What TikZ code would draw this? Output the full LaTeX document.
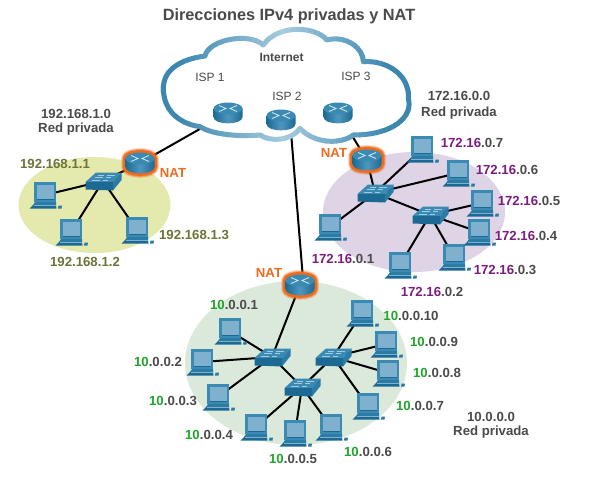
\documentclass[tikz,border=0pt]{standalone}
\usepackage{fontspec}
\setmainfont{Liberation Sans}
\definecolor{txt}{HTML}{4A4A4A}
\definecolor{oli}{HTML}{6E7338}
\definecolor{pur}{HTML}{7B1E7E}
\definecolor{grn}{HTML}{1FA52A}
\definecolor{ora}{HTML}{EF6C1E}
\definecolor{cdark}{HTML}{3C87B0}
\definecolor{clight}{HTML}{B9D8E7}
\definecolor{bluetop}{HTML}{3A8AB4}
\definecolor{bluedk}{HTML}{1C6A94}
\definecolor{bluemd}{HTML}{2A7CA6}
\definecolor{scr}{HTML}{7FB1CF}
\definecolor{elly}{HTML}{E4E9AE}
\definecolor{ellp}{HTML}{DFD4E6}
\definecolor{ellg}{HTML}{DBE9DB}
\tikzset{
  dev/.style={inner sep=0pt,minimum size=0pt,outer sep=0pt},
  lab/.style={font=\bfseries\fontsize{13.2}{15}\selectfont,text=txt,inner sep=0pt},
  isp/.style={font=\fontsize{12}{14}\selectfont,text=txt,inner sep=0pt},
  natlab/.style={font=\bfseries\fontsize{13.2}{15}\selectfont,text=ora,inner sep=0pt},
  wire/.style={line width=2pt,black},
  pcicon/.pic={
    \fill[bluetop] (-11,-13) -- (11,-13) -- (11,7) -- (-11,7) -- cycle;
    \fill[scr] (-8.5,-10.5) -- (8.5,-10.5) -- (8.5,3.5) -- (-8.5,3.5) -- cycle;
    \fill[bluedk] (-8.5,3.5) -- (8.5,3.5) -- (8.5,4.5) -- (-8.5,4.5) -- cycle;
    \fill[bluemd] (-10,7) -- (11,7) -- (11,10) -- (-12,10) -- cycle;
    \fill[bluedk] (-12,10) -- (11,10) -- (11.5,13.5) -- (-15.5,13.5) -- cycle;
    \draw[scr,line width=.5pt] (-11,10) -- (10.5,10);
    \fill[bluemd] (13.5,10.5) -- (17,10.5) -- (16.5,13.5) -- (13,13.5) -- cycle;
  },
  switchicon/.pic={
    \fill[bluetop] (-7,-8.5) -- (18.5,-8.5) -- (10,1) -- (-17.5,1) -- cycle;
    \fill[bluedk] (-17.5,1) -- (10,1) -- (10,9.5) -- (-17.5,8.5) -- cycle;
    \fill[bluemd] (18.5,-8.5) -- (18.5,-1) -- (10,9.5) -- (10,1) -- cycle;
    \draw[white!55!bluetop,line width=.6pt]
      (-5,-6) -- (1,-6) (4,-6) -- (12,-6) (-8,-3.5) -- (0,-3.5) (3,-3.5) -- (8,-3.5) (-11,-1) -- (-3,-1) (0,-1) -- (5,-1);
  },
  routericon/.pic={
    \shade[left color=bluedk,right color=bluedk,middle color=bluetop!70!scr]
      (-14.5,-4.5) -- (-14.5,4) .. controls (-14.5,12.5) and (14.5,12.5) .. (14.5,4) -- (14.5,-4.5) -- cycle;
    \fill[bluetop] (0,-4.5) ellipse [x radius=14.5,y radius=6];
    \draw[white!80!bluetop,line width=.8pt]
      (-9,-7.5) -- (-2,-4.5) -- (-9,-1.5) (9,-7.5) -- (2,-4.5) -- (9,-1.5);
  },
  natglow/.pic={
    \foreach \w/\o in {9/.25,7/.5,5/1}{
      \draw[ora,line width=\w pt,opacity=\o,line join=round]
        (-14.5,-4.5) .. controls (-14.5,-12.5) and (14.5,-12.5) .. (14.5,-4.5) -- (14.5,4) .. controls (14.5,12.5) and (-14.5,12.5) .. (-14.5,4) -- cycle;
    }
  },
}
\newcommand{\cloudpath}{
  (40,205) .. controls (40,150) and (90,118) .. (165,108)
  .. controls (175,60) and (295,35) .. (340,75)
  .. controls (385,10) and (500,20) .. (530,60)
  .. controls (590,45) and (640,85) .. (640,125)
  .. controls (710,120) and (780,165) .. (775,235)
  .. controls (790,290) and (730,345) .. (610,345)
  .. controls (570,375) and (490,370) .. (450,325)
  .. controls (420,365) and (360,365) .. (330,345)
  .. controls (270,350) and (190,345) .. (150,320)
  .. controls (80,310) and (40,265) .. (40,205) -- cycle
}
\newcommand{\purnet}{\textcolor{pur}{172.16}}
\newcommand{\grnnet}{\textcolor{grn}{10}}
\begin{document}
\begin{tikzpicture}[x=1pt,y=-1pt]
\useasboundingbox (0,0) rectangle (600,477);
\fill[white] (0,0) rectangle (600,477);
% ellipses
\fill[elly] (94.5,205) ellipse [x radius=76,y radius=48];
\fill[ellp] (414,212) ellipse [x radius=91,y radius=60];
\fill[ellg] (296,363) ellipse [x radius=111,y radius=82];
% device anchors
\node[dev] (rA) at (228,113) {};
\node[dev] (rB) at (281,120) {};
\node[dev] (rC) at (338,113) {};
\coordinate (rBend) at (290,120);
\node[dev] (natL) at (140,163) {};
\node[dev] (swL) at (103,181) {};
\node[dev] (pL1) at (45,195) {};
\node[dev] (pL2) at (71,232) {};
\node[dev] (pL3) at (137,230) {};
\node[dev] (natR) at (367,160) {};
\node[dev] (swR1) at (375,193) {};
\node[dev] (swR2) at (430,215) {};
\node[dev] (pR1) at (330,227) {};
\node[dev] (pR2) at (400,265) {};
\node[dev] (pR3) at (454,257) {};
\node[dev] (pR4) at (479,232) {};
\node[dev] (pR5) at (482,203) {};
\node[dev] (pR6) at (458,173) {};
\node[dev] (pR7) at (422,149) {};
\node[dev] (natB) at (300,285) {};
\coordinate (natBend) at (303.5,285);
\node[dev] (swA) at (272,357) {};
\node[dev] (swB) at (333,357) {};
\node[dev] (swC) at (302,387) {};
\node[dev] (pB1) at (230,331) {};
\node[dev] (pB2) at (202,362) {};
\node[dev] (pB3) at (218,397) {};
\node[dev] (pB4) at (256,427) {};
\node[dev] (pB5) at (295,433) {};
\node[dev] (pB6) at (331,427) {};
\node[dev] (pB7) at (368,406) {};
\node[dev] (pB8) at (388,373) {};
\node[dev] (pB9) at (386,344) {};
\node[dev] (pB10) at (362,313) {};
% connectors
\foreach \a/\b in {rA/natL,rC/natR,natL/swL,swL/pL1,swL/pL2,swL/pL3,
  natR/swR1,swR1/pR1,swR1/pR6,swR1/pR7,swR1/swR2,swR2/pR2,swR2/pR3,swR2/pR4,swR2/pR5,
  natB/swA,swA/pB1,swA/pB2,swA/pB3,swA/swC,swB/swC,swC/pB4,swC/pB5,swC/pB6,
  swB/pB7,swB/pB8,swB/pB9,swB/pB10}
  \draw[wire] (\a.center) -- (\b.center);
\draw[wire] (rBend) -- (natBend);
% cloud
\begin{scope}[shift={(150,20)},x=.33333pt,y=-.33333pt]
  \fill[white] \cloudpath;
  \foreach \i in {0,...,47}{
    \pgfmathsetmacro{\xs}{15+\i*17}
    \pgfmathsetmacro{\mixv}{max(0,100-abs(\xs+8-400)*0.32)*0.85}
    \begin{scope}
      \clip (\xs,-20) rectangle (\xs+18.5,400);
      \draw[clight!\mixv!cdark,line width=5pt,line join=round] \cloudpath;
    \end{scope}
  }
\end{scope}
% icons
\pic at (natL) {natglow};
\pic at (natR) {natglow};
\pic at (natB) {natglow};
\foreach \r in {rA,rB,rC,natL,natR,natB} \pic at (\r) {routericon};
\foreach \s in {swL,swR1,swR2,swA,swB,swC} \pic at (\s) {switchicon};
\foreach \p in {pL1,pL2,pL3,pR1,pR2,pR3,pR4,pR5,pR6,pR7,pB1,pB2,pB3,pB4,pB5,pB6,pB7,pB8,pB9,pB10} \pic at (\p) {pcicon};
% texts
\node[lab,font=\bfseries\fontsize{16.3}{19}\selectfont] (title) at (289,16) {Direcciones IPv4 privadas y NAT};
\node[lab,font=\bfseries\fontsize{12}{14}\selectfont] (inet) at (281.5,57) {Internet};
\node[isp] (i1) at (210,77) {ISP 1};
\node[isp] (i2) at (287,96) {ISP 2};
\node[isp] (i3) at (356,76) {ISP 3};
\node[lab] (a1) at (76,114) {192.168.1.0};
\node[lab] (a2) at (76,129) {Red privada};
\node[lab] (b1) at (459,96) {172.16.0.0};
\node[lab] (b2) at (459,113) {Red privada};
\node[lab] (c1) at (491,417) {10.0.0.0};
\node[lab] (c2) at (491,432) {Red privada};
\node[natlab] (n1) at (173,173) {NAT};
\node[natlab] (n2) at (334,153) {NAT};
\node[natlab] (n3) at (269,273) {NAT};
\node[lab,text=oli] (l1) at (55,164) {192.168.1.1};
\node[lab,text=oli] (l2) at (85,262) {192.168.1.2};
\node[lab,text=oli] (l3) at (194,235) {192.168.1.3};
\node[lab] (t1) at (343,259) {\purnet.0.1};
\node[lab] (t2) at (432,292) {\purnet.0.2};
\node[lab] (t3) at (505,270) {\purnet.0.3};
\node[lab] (t4) at (526,236) {\purnet.0.4};
\node[lab] (t5) at (529,201) {\purnet.0.5};
\node[lab] (t6) at (507,170) {\purnet.0.6};
\node[lab] (t7) at (472,143) {\purnet.0.7};
\node[lab] (g1) at (234,305) {\grnnet.0.0.1};
\node[lab] (g2) at (158,362) {\grnnet.0.0.2};
\node[lab] (g3) at (173,401) {\grnnet.0.0.3};
\node[lab] (g4) at (209,435) {\grnnet.0.0.4};
\node[lab] (g5) at (293,459) {\grnnet.0.0.5};
\node[lab] (g6) at (368,452) {\grnnet.0.0.6};
\node[lab] (g7) at (420,406) {\grnnet.0.0.7};
\node[lab] (g8) at (437,373) {\grnnet.0.0.8};
\node[lab] (g9) at (434,342) {\grnnet.0.0.9};
\node[lab] (g10) at (411,316) {\grnnet.0.0.10};
\end{tikzpicture}
\end{document}
